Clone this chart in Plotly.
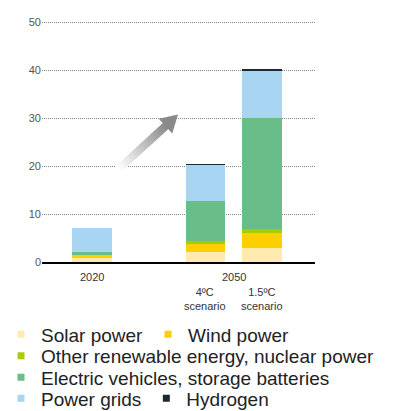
import plotly.graph_objects as go

# categories (the blank one keeps the gap between 2020 and 2050)
categories = ["2020", "4ºC", "1.5ºC"]
category_order = ["2020", " ", "4ºC", "1.5ºC"]

solar = [0.75, 2.0, 3.0]
wind = [0.8, 1.65, 3.1]
other = [0.05, 0.7, 0.85]
ev = [0.4, 8.3, 23.1]
grids = [5.05, 7.65, 9.9]
hydrogen = [0.0, 0.05, 0.2]

series_names = ["Solar power", "Wind power", "Other renewable energy, nuclear power",
                "Electric vehicles, storage batteries", "Power grids", "Hydrogen"]
series_values = [solar, wind, other, ev, grids, hydrogen]
colors = ["#FFEBB0", "#FCCF00", "#A8CB05", "#68BD88", "#A7D5F2", "#1E2830"]
legend_ids = ["legend", "legend", "legend2", "legend3", "legend4", "legend4"]

y_ticks = [0, 10, 20, 30, 40, 50]

FONT = "Liberation Sans"

# plot area in pixels (used for decoration placement only)
L, R, T, B = 42, 315, 22.5, 262.5
Y_TOP = 50.25
T_AX = B - (B - T) * Y_TOP / 50


def paper(px, py):
    return (px - L) / (R - L), (B - py) / (B - T_AX)


fig = go.Figure()

for name, vals, col in zip(series_names, series_values, colors):
    fig.add_trace(go.Bar(
        x=categories, y=vals, name=name, marker=dict(color=col, line=dict(width=0)),
        width=0.70, showlegend=False, hoverinfo="skip"
    ))

# legend entries (small square markers)
for name, col, lg in zip(series_names, colors, legend_ids):
    fig.add_trace(go.Scatter(
        x=[None], y=[None], mode="markers", name=name, legend=lg,
        marker=dict(symbol="square", size=7, color=col)
    ))

# gradient arrow
tail = (118, 170)
tip = (178, 115)
dx, dy = tip[0] - tail[0], tip[1] - tail[1]
length = (dx ** 2 + dy ** 2) ** 0.5
ux, uy = dx / length, dy / length
nx, ny = -uy, ux
head_len, head_half = 17, 10
base = (tip[0] - head_len * ux, tip[1] - head_len * uy)
shapes = []
n_seg = 30
shaft_len = length - head_len + 2
for i in range(n_seg):
    a = shaft_len * i / n_seg
    b = shaft_len * (i + 1.6) / n_seg
    b = min(b, shaft_len)
    t = i / (n_seg - 1)
    g = int(255 - t * (255 - 140))
    x0, y0 = paper(tail[0] + a * ux, tail[1] + a * uy)
    x1, y1 = paper(tail[0] + b * ux, tail[1] + b * uy)
    shapes.append(dict(type="line", xref="paper", yref="paper", x0=x0, y0=y0, x1=x1, y1=y1,
                       line=dict(color=f"rgb({g},{g},{g})", width=8), layer="above"))
p1 = paper(*tip)
p2 = paper(base[0] + head_half * nx, base[1] + head_half * ny)
p3 = paper(base[0] - head_half * nx, base[1] - head_half * ny)
shapes.append(dict(type="path", xref="paper", yref="paper",
                   path=f"M{p1[0]},{p1[1]} L{p2[0]},{p2[1]} L{p3[0]},{p3[1]} Z",
                   fillcolor="rgb(138,138,138)", line=dict(width=0), layer="above"))

# x labels
annotations = [
    dict(x=0, y=paper(0, 278)[1], text="2020"),
    dict(x=2.5, y=paper(0, 278)[1], text="2050"),
    dict(x=2, y=paper(0, 300)[1], text="4ºC<br>scenario"),
    dict(x=3, y=paper(0, 300)[1], text="1.5ºC<br>scenario"),
]
for a in annotations:
    a.update(xref="x", yref="paper", showarrow=False, yanchor="middle",
             font=dict(family=FONT, size=11, color="#333333"))

legend_style = dict(orientation="h", xref="paper", yref="paper", x=paper(1, 0)[0],
                    xanchor="left", yanchor="middle", bgcolor="rgba(0,0,0,0)",
                    font=dict(family=FONT, size=19, color="#222222"), traceorder="normal",
                    itemclick=False, itemdoubleclick=False, tracegroupgap=0)

fig.update_layout(
    width=411, height=411,
    margin=dict(l=L, r=411 - R, t=T_AX, b=411 - B, autoexpand=False),
    barmode="stack", bargap=0,
    plot_bgcolor="white", paper_bgcolor="white",
    font=dict(family=FONT),
    shapes=shapes, annotations=annotations,
    legend=dict(legend_style, y=paper(0, 335)[1]),
    legend2=dict(legend_style, y=paper(0, 356.5)[1]),
    legend3=dict(legend_style, y=paper(0, 378)[1]),
    legend4=dict(legend_style, y=paper(0, 399)[1]),
    xaxis=dict(type="category", categoryorder="array", categoryarray=category_order,
               range=[-0.877, 3.93], showticklabels=False, ticks="",
               showline=True, linecolor="black", linewidth=1.5, showgrid=False, zeroline=False),
    yaxis=dict(range=[0, Y_TOP], tickvals=y_ticks, showgrid=True, gridcolor="#888888",
               griddash="1px,1px", gridwidth=1, zeroline=False, ticks="",
               tickfont=dict(family=FONT, size=11, color="#555555")),
)

fig.write_html("out.html", config={"displayModeBar": False},
               post_script="document.body.style.margin='0px';")
